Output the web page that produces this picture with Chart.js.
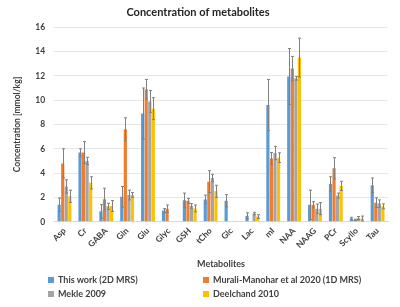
<!DOCTYPE html>
<html>
<head>
<meta charset="utf-8">
<script src="https://cdn.jsdelivr.net/npm/chart.js@4"></script>
<style>
  html, body { margin: 0; padding: 0; background: #fff; }
  #wrap { position: relative; width: 400px; height: 307px; }
  #legend {
    position: absolute; left: 48px; top: 274px;
    display: grid; grid-template-columns: 155px 190px; row-gap: 3px;
    font: bold 9px Lato, sans-serif; color: #404040;
  }
  #legend span.box { display: inline-block; width: 6px; height: 6px; margin-right: 4px; }
</style>
</head>
<body>
<div id="wrap">
  <canvas id="metabChart" width="400" height="307"></canvas>
  <div id="legend"></div>
</div>
<script>
const metabolites = ['Asp', 'Cr', 'GABA', 'Gln', 'Glu', 'Glyc', 'GSH', 'tCho', 'Glc', 'Lac', 'mI', 'NAA', 'NAAG', 'PCr', 'Scyllo', 'Tau'];

const thisWork    = [1.4, 5.7, 0.86, 2.05, 8.9, 0.92, 1.76, 1.84, 1.73, 0.49, 9.6, 11.95, 1.4, 3.1, 0.27, 3.0];
const thisWorkErr = [0.55, 0.3, 0.55, 0.85, 2.1, 0.16, 0.6, 0.35, 0.5, 0.25, 2.1, 2.3, 1.2, 0.6, 0.1, 0.6];

const murali    = [4.8, 5.7, 1.86, 7.6, 10.9, 1.08, 1.73, 3.3, null, null, 5.2, 12.6, 1.4, 4.4, 0.16, 1.57];
const muraliErr = [1.2, 0.9, 0.9, 0.95, 0.8, 0.3, 0.2, 0.9, null, null, 0.5, 1.0, 0.25, 0.87, 0.05, 0.4];

const mekle    = [2.9, 5.0, 1.27, 2.2, 9.9, null, 1.3, 3.6, null, 0.68, 5.65, 11.8, 1.08, 2.16, 0.3, 1.5];
const mekleErr = [0.55, 0.3, 0.25, 0.4, 0.9, null, 0.2, 0.3, null, 0.1, 0.55, 0.15, 0.38, 0.2, 0.13, 0.3];

const deelchand    = [2.1, 3.2, 1.3, 2.2, 9.3, null, 1.1, 2.5, null, 0.43, 5.27, 13.5, 1.08, 2.95, 0.27, 1.27];
const deelchandErr = [0.5, 0.5, 0.45, 0.2, 0.9, null, 0.28, 0.5, null, 0.15, 0.4, 1.6, 0.5, 0.38, 0.2, 0.2];

const fontFamily = 'Lato, sans-serif';
const textColor = '#404040';

// Whiskers drawn from the errors stored on each dataset
const errorBarPlugin = {
    id: 'errorBars',
    afterDatasetsDraw(chart) {
        const ctx = chart.ctx;
        const y = chart.scales.y;
        ctx.save();
        ctx.strokeStyle = '#808080';
        ctx.lineWidth = 1;
        chart.data.datasets.forEach((ds, di) => {
            const meta = chart.getDatasetMeta(di);
            meta.data.forEach((bar, i) => {
                const v = ds.data[i];
                const e = ds.errors[i];
                if (v == null || e == null) return;
                const x = Math.round(bar.x) + 0.5;
                const top = y.getPixelForValue(v + e);
                const bot = y.getPixelForValue(Math.max(v - e, 0));
                ctx.beginPath();
                ctx.moveTo(x, top); ctx.lineTo(x, bot);
                ctx.moveTo(x - 1.5, top); ctx.lineTo(x + 1.5, top);
                ctx.moveTo(x - 1.5, bot); ctx.lineTo(x + 1.5, bot);
                ctx.stroke();
            });
        });
        ctx.restore();
    }
};

const datasets = [
    { label: 'This work (2D MRS)', data: thisWork, errors: thisWorkErr, backgroundColor: '#5B9BD5' },
    { label: 'Murali-Manohar et al 2020 (1D MRS)', data: murali, errors: muraliErr, backgroundColor: '#ED7D31' },
    { label: 'Mekle 2009', data: mekle, errors: mekleErr, backgroundColor: '#A5A5A5' },
    { label: 'Deelchand 2010', data: deelchand, errors: deelchandErr, backgroundColor: '#FFC000' }
];

const ctx = document.getElementById('metabChart').getContext('2d');
new Chart(ctx, {
    type: 'bar',
    data: { labels: metabolites, datasets: datasets },
    options: {
        responsive: false,
        animation: false,
        devicePixelRatio: 1,
        categoryPercentage: 0.68,
        barPercentage: 0.9,
        layout: { padding: { left: 8, right: 12, top: 4, bottom: 34 } },
        scales: {
            x: {
                grid: { display: false, drawTicks: false },
                border: { color: '#d9d9d9' },
                ticks: {
                    color: textColor, maxRotation: 45, minRotation: 45, padding: 4,
                    font: { family: fontFamily, size: 8.5, weight: 'bold' }
                },
                title: {
                    display: true, text: 'Metabolites', color: '#404040', padding: { top: 4 },
                    font: { family: fontFamily, size: 9, weight: 'bold' }
                }
            },
            y: {
                min: 0, max: 16,
                grid: { color: '#e6e6e6', drawTicks: false },
                border: { display: false },
                ticks: {
                    stepSize: 2, color: textColor, padding: 9,
                    font: { family: fontFamily, size: 8.5, weight: 'bold' }
                },
                title: {
                    display: true, text: 'Concentration [mmol/kg]', color: '#404040',
                    font: { family: fontFamily, size: 8.5, weight: 'bold' }
                }
            }
        },
        plugins: {
            legend: { display: false },
            tooltip: { enabled: false },
            title: {
                display: true, text: 'Concentration of metabolites', color: '#262626',
                padding: { top: 2, bottom: 8 },
                font: { family: fontFamily, size: 11, weight: 'bold' }
            }
        }
    },
    plugins: [errorBarPlugin]
});

// Legend in two columns, built from the datasets
const legend = document.getElementById('legend');
datasets.forEach(ds => {
    const item = document.createElement('div');
    item.innerHTML = '<span class="box" style="background:' + ds.backgroundColor + '"></span>' + ds.label;
    legend.appendChild(item);
});
</script>
</body>
</html>
